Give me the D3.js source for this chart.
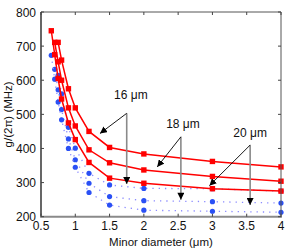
<!DOCTYPE HTML>
<html>
  <head>
    <meta charset='utf-8'>
    <title>g vs minor diameter</title>
    <script src='https://d3js.org/d3.v7.min.js'></script>
  </head>
  <style>
    body {margin:0; background:white;}
    text {font-family:'Liberation Sans',Arial,sans-serif; fill:#111;}
    .tick_label {font-size:12px;}
    .axis_title {font-size:11.5px;}
    .note {font-size:12px;}
  </style>
  <body>
    <svg id='chart'></svg>
<script>
  // minor diameter (um) and g/(2pi) (MHz), three loop sizes
  var loops=['16','18','20'];
  var red_x={'16':[0.75,0.8,0.9,1.0,1.2,1.5,2,3,4],
             '18':[0.7,0.75,0.8,0.9,1.0,1.2,1.5,2,3,4],
             '20':[0.65,0.7,0.75,0.8,0.9,1.0,1.2,1.5,2,3,4]};
  var red_y={'16':[711,659,575,519,450,403,384,362,346],
             '18':[711,654,600,519,466,396,358,337,318,304],
             '20':[745,675,605,545,475,426,359,313,298,282,275]};
  var blue_x={'16':[0.75,0.8,0.9,1.0,1.2,1.5,2,3,4],
              '18':[0.7,0.75,0.8,0.9,1.0,1.2,1.5,2,3,4],
              '20':[0.65,0.7,0.75,0.8,0.9,1.0,1.2,1.5,2,3,4]};
  var blue_y={'16':[614,560,462,401,327,293,283,282,275],
              '18':[632,572,514,428,367,298,259,247,244,240],
              '20':[673,603,536,484,400,345,271,234,219,216,213]};
  var x_ticks=[0.5,1,1.5,2,2.5,3,3.5,4],
      y_ticks=[200,300,400,500,600,700,800];
  // annotation anchors: label, line start, black arrow tip, grey arrow tip
  var notes=[{label:'16 \u03bcm',tx:1.81,ty:557,sx:1.75,sy:503,bx:1.36,by:444,gy:296},
             {label:'18 \u03bcm',tx:2.57,ty:471,sx:2.54,sy:434,bx:2.195,by:346,gy:250},
             {label:'20 \u03bcm',tx:3.55,ty:446,sx:3.55,sy:410,bx:2.956,by:291,gy:234}];

  var width=289, height=248;
  var margin={top:12,right:8,bottom:31.3,left:41};
  var svg=d3.select('#chart').attr('width',width).attr('height',height);
  var x=d3.scaleLinear().domain([0.5,4]).range([margin.left,width-margin.right]),
      y=d3.scaleLinear().domain([200,800]).range([height-margin.bottom,margin.top]);

  var defs=svg.append('defs');
  defs.append('marker').attr('id','head').attr('viewBox','0 0 10 10')
      .attr('refX',10).attr('refY',5).attr('markerWidth',7).attr('markerHeight',7)
      .attr('markerUnits','userSpaceOnUse').attr('orient','auto')
      .append('path').attr('d','M0,0L10,5L0,10z').attr('fill','black');
  defs.append('marker').attr('id','head_v').attr('viewBox','0 0 10 10')
      .attr('refX',10).attr('refY',5).attr('markerWidth',9).attr('markerHeight',7)
      .attr('markerUnits','userSpaceOnUse').attr('orient','auto')
      .append('path').attr('d','M0,0L10,5L0,10z').attr('fill','black');

  var line=d3.line().x(d=>x(d[0])).y(d=>y(d[1]));
  var plot=svg.append('g');
  // blue dotted series
  loops.forEach(function(k) {
    var pts=d3.zip(blue_x[k],blue_y[k]);
    plot.append('path').datum(pts).attr('d',line).attr('fill','none')
        .attr('stroke','#8c8cff').attr('stroke-width',1.3)
        .attr('stroke-dasharray','1.3,5');
    plot.selectAll(null).data(pts).enter().append('circle')
        .attr('cx',d=>x(d[0])).attr('cy',d=>y(d[1])).attr('r',2.6)
        .attr('fill','#2a50f5');
  });
  // red solid series
  loops.forEach(function(k) {
    var pts=d3.zip(red_x[k],red_y[k]);
    plot.append('path').datum(pts).attr('d',line).attr('fill','none')
        .attr('stroke','#ff0000').attr('stroke-width',1.5);
    plot.selectAll(null).data(pts).enter().append('rect')
        .attr('x',d=>x(d[0])-2.7).attr('y',d=>y(d[1])-2.7)
        .attr('width',5.4).attr('height',5.4).attr('fill','#ff0000');
  });

  // annotations
  notes.forEach(function(n) {
    svg.append('text').attr('class','note').attr('x',x(n.tx)).attr('y',y(n.ty)+4)
       .attr('text-anchor','middle').text(n.label);
    svg.append('line').attr('x1',x(n.sx)).attr('y1',y(n.sy))
       .attr('x2',x(n.sx)).attr('y2',y(n.gy))
       .attr('stroke','#8a8a8a').attr('stroke-width',1.6)
       .attr('marker-end','url(#head_v)');
    svg.append('line').attr('x1',x(n.sx)).attr('y1',y(n.sy))
       .attr('x2',x(n.bx)).attr('y2',y(n.by))
       .attr('stroke','black').attr('stroke-width',0.9)
       .attr('marker-end','url(#head)');
  });

  // frame and ticks
  var x0=x(0.5), x1=x(4), y0=y(200), y1=y(800);
  svg.append('line').attr('x1',x0).attr('x2',x1).attr('y1',y1).attr('y2',y1).attr('stroke','#555');
  svg.append('line').attr('x1',x1).attr('x2',x1).attr('y1',y1).attr('y2',y0).attr('stroke','#555');
  svg.append('line').attr('x1',x0).attr('x2',x0).attr('y1',y1).attr('y2',y0).attr('stroke','black').attr('stroke-width',1.2);
  svg.append('line').attr('x1',x0-1).attr('x2',x1+1).attr('y1',y0).attr('y2',y0).attr('stroke','#8a8a8a').attr('stroke-width',2);
  x_ticks.forEach(function(t) {
    svg.append('line').attr('x1',x(t)).attr('x2',x(t)).attr('y1',y0).attr('y2',y0-3).attr('stroke','#444');
    svg.append('line').attr('x1',x(t)).attr('x2',x(t)).attr('y1',y1).attr('y2',y1+3).attr('stroke','#444');
    svg.append('text').attr('class','tick_label').attr('x',x(t)).attr('y',y0+13.5)
       .attr('text-anchor','middle').text(t);
  });
  y_ticks.forEach(function(t) {
    svg.append('line').attr('x1',x0).attr('x2',x0+3).attr('y1',y(t)).attr('y2',y(t)).attr('stroke','#444');
    svg.append('line').attr('x1',x1).attr('x2',x1-3).attr('y1',y(t)).attr('y2',y(t)).attr('stroke','#444');
    svg.append('text').attr('class','tick_label').attr('x',x0-5).attr('y',y(t)+4.5)
       .attr('text-anchor','end').text(t);
  });
  svg.append('text').attr('class','axis_title').attr('x',(x0+x1)/2).attr('y',height-2.5)
     .attr('text-anchor','middle').text('Minor diameter (\u03bcm)');
  svg.append('text').attr('class','axis_title')
     .attr('transform','translate(12,'+((y0+y1)/2)+') rotate(-90)')
     .attr('text-anchor','middle').text('g/(2\u03c0) (MHz)');
</script>
  </body>
</html>
